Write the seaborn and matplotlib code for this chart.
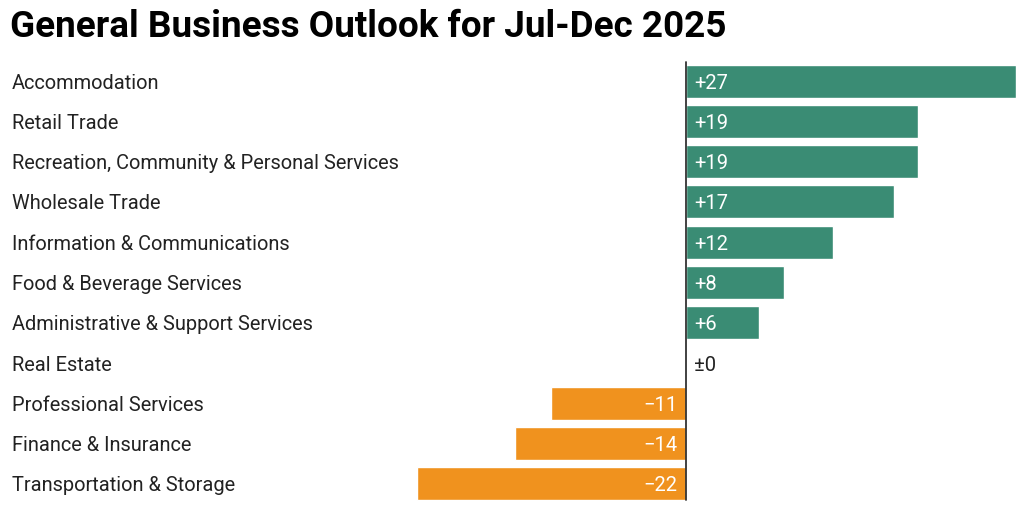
import matplotlib
matplotlib.use("Agg")
import matplotlib.pyplot as plt
import matplotlib.transforms as mtransforms
import seaborn as sns
import pandas as pd

# General business outlook, net weighted balance per sector
sectors = [
    "Accommodation",
    "Retail Trade",
    "Recreation, Community & Personal Services",
    "Wholesale Trade",
    "Information & Communications",
    "Food & Beverage Services",
    "Administrative & Support Services",
    "Real Estate",
    "Professional Services",
    "Finance & Insurance",
    "Transportation & Storage",
]
balance = [27, 19, 19, 17, 12, 8, 6, 0, -11, -14, -22]

green = "#3a8c74"
orange = "#f0921e"

df = pd.DataFrame({"sector": sectors, "balance": balance})
df["sign"] = ["pos" if v >= 0 else "neg" for v in balance]

sns.set_style("white")
plt.rcParams["font.family"] = ["Roboto", "DejaVu Sans"]

fig = plt.figure(figsize=(10.24, 5.15), dpi=100)
ax = fig.add_axes([417 / 1024, 1 - 504 / 515, (1016 - 417) / 1024, (504 - 61) / 515])

sns.barplot(data=df, x="balance", y="sector", hue="sign",
            palette={"pos": green, "neg": orange}, orient="h",
            width=0.82, legend=False, ax=ax, saturation=1)

ax.set_xlim(-22, 27)
ax.set_ylim(10.5, -0.5)
ax.set_xlabel("")
ax.set_ylabel("")
ax.set_xticks([])
ax.set_yticks([])
for s in ax.spines.values():
    s.set_visible(False)
ax.axvline(0, color="#333333", lw=1.3, ymin=0.008, ymax=0.998)

dy = 0.05  # small nudge so text sits on the bar centre like the original

# category labels at the left edge of the figure
trans = mtransforms.blended_transform_factory(fig.transFigure, ax.transData)
for i, name in enumerate(sectors):
    ax.text(12 / 1024, i + dy, name, transform=trans, ha="left", va="center",
            fontsize=14.4, color="#222222")

# value labels inside the bars
for i, v in enumerate(balance):
    if v > 0:
        ax.text(0.65, i + dy, f"+{v}", ha="left", va="center", fontsize=14.5, color="white")
    elif v < 0:
        ax.text(-0.7, i + dy, f"\u2212{abs(v)}", ha="right", va="center", fontsize=14.5, color="white")
    else:
        ax.text(0.65, i + dy, "\u00b10", ha="left", va="center", fontsize=14.5, color="#222222")

fig.text(10 / 1024, 1 - 27 / 515, "General Business Outlook for Jul-Dec 2025",
         ha="left", va="center", fontsize=26.6, fontweight="bold", color="black")

fig.savefig("out.png", dpi=100)
